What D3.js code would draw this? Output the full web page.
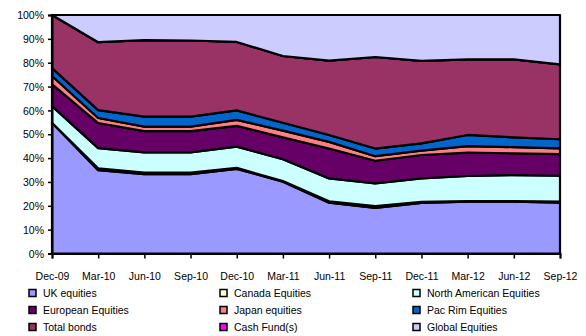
<!DOCTYPE html>
<html><head><meta charset="utf-8">
<script src="https://cdn.jsdelivr.net/npm/d3@7"></script>
<style>body{margin:0;background:#fff}svg{display:block}text{font-family:"Liberation Sans",Arial,sans-serif;fill:#000}</style>
</head><body><svg id="c" width="586" height="336"></svg>
<script>
const categories = ["Dec-09","Mar-10","Jun-10","Sep-10","Dec-10","Mar-11","Jun-11","Sep-11","Dec-11","Mar-12","Jun-12","Sep-12"];
const seriesNames = ["UK equities","Canada Equities","North American Equities","European Equities","Japan equities","Pac Rim Equities","Total bonds","Cash Fund(s)","Global Equities"];
const seriesColors = ["#9999FF","#FFFFCC","#CCFFFF","#660066","#FF8080","#0066CC","#993366","#FF00FF","#CCCCFF"];
const ukEquities   = [54.8,34.9,33.3,33.3,35.5,30.1,21.3,19.1,21.2,21.7,21.7,21.3];
const canadaEq     = [0,0.8,0.6,0.6,0.4,0.3,0.6,0.8,0.5,0.3,0.3,0.5];
const northAmEq    = [7.0,8.5,8.5,8.5,8.9,9.1,9.6,9.5,9.8,10.5,10.9,10.8];
const europeanEq   = [9.2,10.5,8.9,8.9,8.7,9.2,12.5,9.5,9.8,9.8,9.1,9.1];
const japanEq      = [3.4,2.1,1.9,1.9,2.5,2.8,2.8,1.9,1.8,2.7,2.6,2.4];
const pacRimEq     = [3.3,3.3,4.2,4.2,4.0,3.3,2.9,3.2,3.1,4.7,4.1,3.8];
const totalBonds   = [22.3,28.5,32.1,31.9,28.7,28.0,31.2,38.4,34.6,31.7,32.7,31.4];
const cashFunds    = [0,0,0,0,0,0,0,0,0,0,0,0];
const globalEq     = [0,11.4,10.5,10.7,11.3,17.2,19.1,17.6,19.2,18.6,18.6,20.7];
const yTicks = [0,10,20,30,40,50,60,70,80,90,100];

const allSeries = [ukEquities,canadaEq,northAmEq,europeanEq,japanEq,pacRimEq,totalBonds,cashFunds,globalEq];
const rows = categories.map((c,i)=>{const r={cat:c};seriesNames.forEach((n,j)=>r[n]=allSeries[j][i]);return r;});

const svg = d3.select("#c");
const L=52,R=560,T=15,B=253.5;
const x = d3.scalePoint().domain(categories).range([L,R]).padding(0);
const y = d3.scaleLinear().domain([0,100]).range([B,T]);

const stack = d3.stack().keys(seriesNames).order(d3.stackOrderNone).offset(d3.stackOffsetExpand);
const layers = stack(rows);
const area = d3.area().x(d=>x(d.data.cat)).y0(d=>y(d[0]*100)).y1(d=>y(d[1]*100));

svg.append("g").selectAll("path").data(layers).join("path")
  .attr("d",area).attr("fill",(d,i)=>seriesColors[i])
  .attr("stroke","#000").attr("stroke-width",2.2).attr("stroke-linejoin","round");

// axes
const ya = d3.axisLeft(y).tickValues(yTicks).tickFormat(d=>d+"%").tickSize(4).tickPadding(4);
const gy = svg.append("g").attr("transform",`translate(${L},0)`).call(ya);
gy.select(".domain").attr("stroke","#000").attr("stroke-width",2);
gy.selectAll(".tick line").attr("stroke","#000").attr("stroke-width",1.5);
gy.selectAll("text").style("font-size","10.5px").attr("dy","0.35em");

const xa = d3.axisBottom(x).tickSize(5).tickPadding(14);
const gx = svg.append("g").attr("transform",`translate(0,${B})`).call(xa);
gx.select(".domain").attr("stroke","#000").attr("stroke-width",2);
gx.selectAll(".tick line").attr("stroke","#000").attr("stroke-width",1.5);
gx.selectAll("text").style("font-size","10.5px");

// right border
svg.append("line").attr("x1",R).attr("x2",R).attr("y1",T).attr("y2",B).attr("stroke","#000").attr("stroke-width",1.5);

// legend
const colX=[29,220,413], rowY=[293,310,327];
const lg = svg.append("g");
seriesNames.forEach((n,i)=>{
  const cx=colX[i%3], cy=rowY[Math.floor(i/3)];
  lg.append("rect").attr("x",cx).attr("y",cy-3.5).attr("width",7).attr("height",7)
    .attr("fill",seriesColors[i]).attr("stroke","#000").attr("stroke-width",1.5);
  lg.append("text").attr("x",cx+14).attr("y",cy).attr("dy","0.35em").style("font-size","10.5px").text(n);
});
</script></body></html>
